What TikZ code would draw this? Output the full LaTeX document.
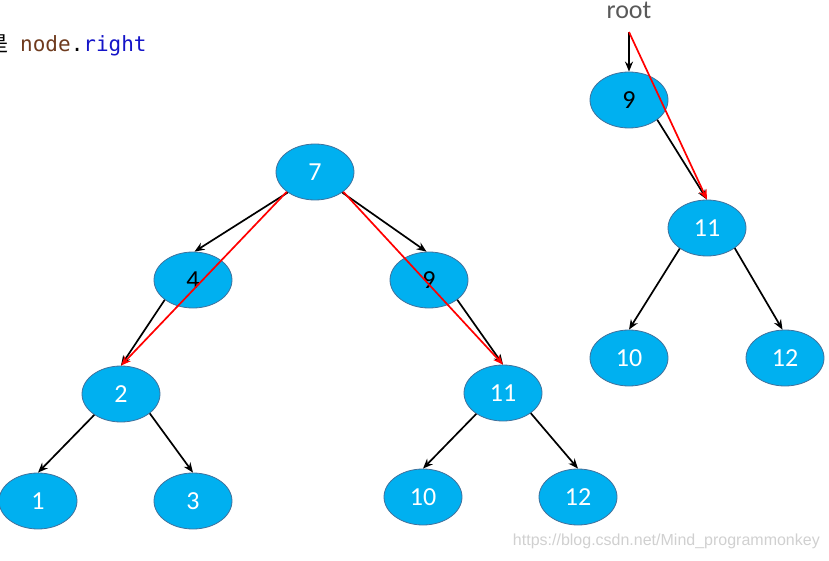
\documentclass[tikz,border=0pt]{standalone}
\usepackage{fontspec}
\setmainfont{Carlito}
\newfontfamily\monof{DejaVu Sans Mono}
\newfontfamily\cjkf{Noto Sans CJK SC}
\newfontfamily\urlf{Liberation Sans}
\usetikzlibrary{arrows.meta,shapes.geometric}
\definecolor{nodefill}{HTML}{00B0F0}
\definecolor{nodeedge}{HTML}{41719C}
\definecolor{rootgray}{HTML}{595959}
\definecolor{urlgray}{HTML}{D0D0D0}
\definecolor{kwbrown}{HTML}{6F3B1E}
\definecolor{kwblue}{HTML}{1414C8}
\begin{document}
\begin{tikzpicture}[x=1pt,y=-1pt,
  tn/.style={ellipse, draw=nodeedge, line width=0.8pt, fill=nodefill,
    minimum width=78pt, minimum height=56pt, inner sep=0pt,
    font=\fontsize{26}{26}\selectfont, text=white},
  dk/.style={text=black},
  blk/.style={line width=1.7pt, -{Stealth[length=10pt,width=8pt]}},
  rd/.style={red, line width=1.7pt, -{Stealth[length=10pt,width=8pt]}}]
\useasboundingbox (0,0) rectangle (829,561);

% header text
\node[anchor=base east, inner sep=0pt, font=\cjkf\fontsize{21}{21}\selectfont] (hz) at (9,52) {是};
\node[anchor=base west, inner sep=0pt, font=\monof\fontsize{21}{21}\selectfont] (code) at (20,52)
  {\textcolor{kwbrown}{node}\textcolor{black}{.}\textcolor{kwblue}{right}};

% left tree
\node[tn] (n7) at (315,172) {7};
\node[tn,dk] (n4) at (193,280) {4};
\node[tn,dk] (n9l) at (429,280) {9};
\node[tn] (n2) at (121,394) {2};
\node[tn] (n11l) at (503,393) {11};
\node[tn] (n1) at (38,501) {1};
\node[tn] (n3) at (193,501) {3};
\node[tn] (n10l) at (423,497) {10};
\node[tn] (n12l) at (578,497) {12};

% right tree
\node[anchor=base, inner sep=0pt, text=rootgray, font=\fontsize{26}{26}\selectfont] (root) at (629,19) {root};
\coordinate (rootpt) at (629,32);
\node[tn,dk] (n9r) at (629,100) {9};
\node[tn] (n11r) at (707,228) {11};
\node[tn] (n10r) at (629,358) {10};
\node[tn] (n12r) at (785,358) {12};

% black edges
\draw[blk] (n7.217) -- (n4.87);
\draw[blk] (n7.-37) -- (n9l.95);
\draw[blk] (n4.215) -- (n2.north);
\draw[blk] (n9l.-35) -- (n11l.north);
\draw[blk] (n2.218) -- (n1.north);
\draw[blk] (n2.-34) -- (n3.north);
\draw[blk] (n11l.218) -- (n10l.north);
\draw[blk] (n11l.-36) -- (n12l.north);
\draw[blk] (rootpt) -- (n9r.north);
\draw[blk] (n9r.-35) -- (n11r.north);
\draw[blk] (n11r.217) -- (n10r.north);
\draw[blk] (n11r.-36) -- (n12r.95);

% red edges
\draw[rd] (n7.215) -- (n2.north);
\draw[rd] (n7.-35) -- (n11l.north);
\draw[rd] (rootpt) -- (n11r.north);

% url
\node[anchor=base east, inner sep=0pt, text=urlgray, font=\urlf\fontsize{16}{16}\selectfont] (url) at (820,545)
  {https://blog.csdn.net/Mind\_programmonkey};
\end{tikzpicture}
\end{document}
